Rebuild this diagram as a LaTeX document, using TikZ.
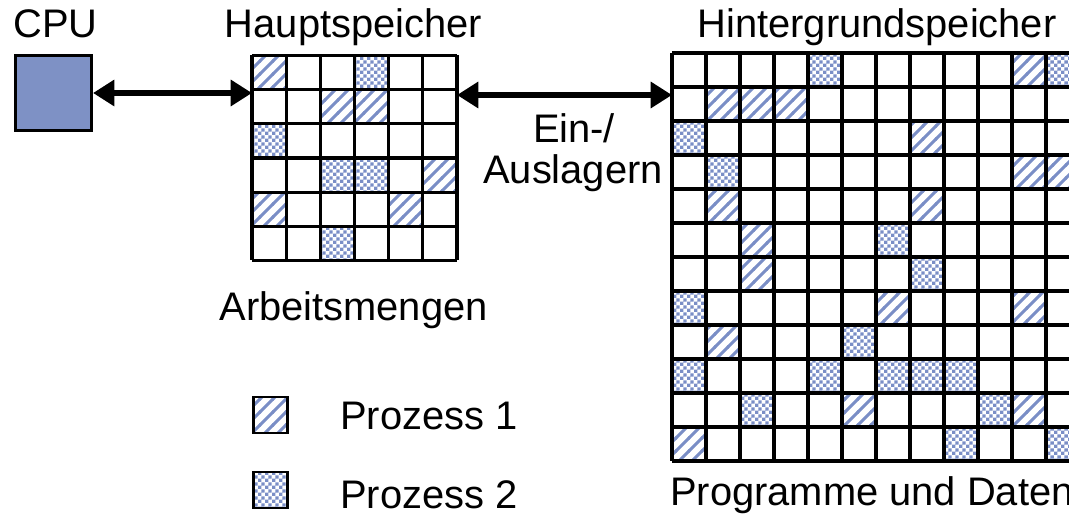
\documentclass[tikz,border=0pt]{standalone}
\usepackage{fontspec}
\setmainfont{Liberation Sans}
\usetikzlibrary{arrows.meta,patterns}
\definecolor{pblue}{RGB}{122,142,198}
\definecolor{cpublue}{RGB}{126,145,197}
\pgfdeclarepatternformonly{myhatch}{\pgfqpoint{-1pt}{-1pt}}{\pgfqpoint{10.75pt}{10.75pt}}{\pgfqpoint{9.75pt}{9.75pt}}{%
  \pgfsetlinewidth{2.2pt}%
  \pgfpathmoveto{\pgfqpoint{-1pt}{-1pt}}%
  \pgfpathlineto{\pgfqpoint{10.75pt}{10.75pt}}%
  \pgfusepath{stroke}}
\pgfdeclarepatternformonly{mychecks}{\pgfqpoint{0pt}{0pt}}{\pgfqpoint{5.1pt}{5.1pt}}{\pgfqpoint{5.1pt}{5.1pt}}{%
  \pgfpathrectangle{\pgfqpoint{0pt}{0pt}}{\pgfqpoint{2.55pt}{2.55pt}}%
  \pgfpathrectangle{\pgfqpoint{2.55pt}{2.55pt}}{\pgfqpoint{2.55pt}{2.55pt}}%
  \pgfusepath{fill}}
\begin{document}
\begin{tikzpicture}[x=0.75pt,y=-0.75pt,
  lbl/.style={font=\fontsize{29.9}{35}\selectfont, inner sep=0pt},
  gridline/.style={line width=2.3pt, black},
  hatchcell/.style={pattern=myhatch, pattern color=pblue},
  checkcell/.style={pattern=mychecks, pattern color=pblue},
  legendbox/.style={draw, line width=2pt, minimum width=25.5pt, minimum height=27pt, inner sep=0pt},
  gridarea/.style={minimum width=#1, minimum height=#1, inner sep=0pt, outer sep=0pt},
  dblarrow/.style={{Triangle[length=16pt,width=19pt]}-{Triangle[length=16pt,width=19pt]}, line width=4.5pt}
]
\useasboundingbox (0,0) rectangle (1069,516);
\clip (0,0) rectangle (1069,516);

% CPU
\node[draw, fill=cpublue, line width=2.3pt, minimum width=57pt, minimum height=56.25pt, inner sep=0pt] (cpu) at (53.5,93) {};
\node[lbl, anchor=base] (cpulbl) at (55.5,38) {CPU};

% main memory grid
\node[gridarea=153.75pt] (hs) at (354.5,158) {};
\node[lbl, anchor=base] (hslbl) at (353.5,38) {Hauptspeicher};
\begin{scope}[shift={(hs.north west)}]
  \def\cw{34.1667}
  \foreach \r/\c in {0/0,1/2,1/3,3/5,4/0,4/4}
    \fill[hatchcell] (\c*\cw,\r*\cw) rectangle ++(\cw,\cw);
  \foreach \r/\c in {0/3,2/0,3/2,3/3,5/2}
    \fill[checkcell] (\c*\cw,\r*\cw) rectangle ++(\cw,\cw);
  \foreach \i in {0,...,6} {
    \draw[gridline] (\i*\cw,0) -- (\i*\cw,6*\cw);
    \draw[gridline] (0,\i*\cw) -- (6*\cw,\i*\cw);
  }
\end{scope}

% background storage grid
\node[gridarea=306pt] (hg) at (876,257) {};
\node[lbl, anchor=base] (hglbl) at (877,38) {Hintergrundspeicher};
\begin{scope}[shift={(hg.north west)}]
  \def\cw{34}
  \foreach \r/\c in {0/10,1/1,1/2,1/3,2/7,3/10,3/11,4/1,4/7,5/2,6/2,7/6,7/10,8/1,10/5,10/10,11/0}
    \fill[hatchcell] (\c*\cw,\r*\cw) rectangle ++(\cw,\cw);
  \foreach \r/\c in {0/4,0/11,2/0,3/1,5/6,6/7,7/0,8/5,9/0,9/4,9/6,9/7,9/8,10/2,10/9,11/8,11/11}
    \fill[checkcell] (\c*\cw,\r*\cw) rectangle ++(\cw,\cw);
  \foreach \i in {0,...,12} {
    \draw[gridline] (\i*\cw,0) -- (\i*\cw,12*\cw);
    \draw[gridline] (0,\i*\cw) -- (12*\cw,\i*\cw);
  }
\end{scope}

% arrows
\draw[dblarrow] (cpu.east) -- (hs.west |- cpu.east);
\coordinate (a2) at (0,95);
\draw[dblarrow] (hs.east |- a2) -- (hg.west |- a2);

% labels
\node[lbl, anchor=base] (ein) at (574,143) {Ein-/};
\node[lbl, anchor=base] (aus) at (573,184) {Auslagern};
\node[lbl, anchor=base] (arb) at (353.5,320) {Arbeitsmengen};
\node[lbl, anchor=base west] (prog) at (670,505) {Programme und Daten};

% legend
\node[legendbox, pattern=myhatch, pattern color=pblue] (leg1) at (270.5,415) {};
\node[legendbox, pattern=mychecks, pattern color=pblue] (leg2) at (270.5,490) {};
\node[lbl, anchor=base west] (p1) at (340,429) {Prozess 1};
\node[lbl, anchor=base west] (p2) at (340,508) {Prozess 2};
\end{tikzpicture}
\end{document}
